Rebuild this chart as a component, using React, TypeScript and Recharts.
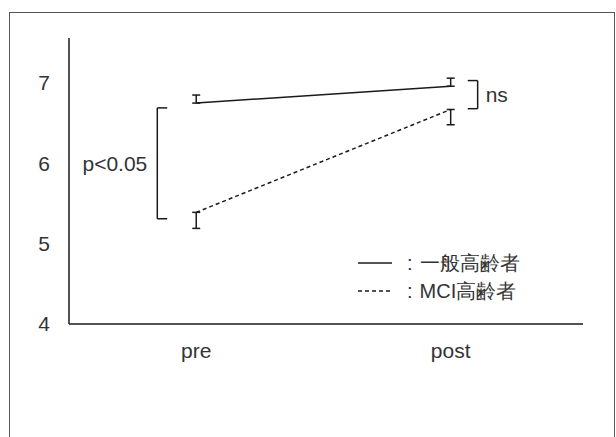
import React from "react";
import {
  LineChart,
  Line,
  XAxis,
  YAxis,
  ErrorBar,
  ReferenceLine,
  Legend,
} from "recharts";

// time points
const phases = ["pre", "post"];
const phaseX = [1, 2];

// mean scores
const generalMeans = [6.75, 6.96];
const mciMeans = [5.39, 6.67];

// one-sided error bars: general drawn upward, MCI downward
const generalErr = [0.1, 0.1];
const mciErr = [0.2, 0.19];

const yTicks = [4, 5, 6, 7];

// significance brackets (data coordinates)
const preBracket = { x: 0.847, tip: 0.886, top: 6.69, bottom: 5.31, label: "p<0.05" };
const postBracket = { x: 2.106, tip: 2.067, top: 7.03, bottom: 6.68, label: "ns" };

const legendItems = [
  { name: "一般高齢者", dash: undefined },
  { name: "MCI高齢者", dash: "4 3" },
];

const data = phases.map((p, i) => ({
  x: phaseX[i],
  phase: p,
  general: generalMeans[i],
  generalErr: [0, generalErr[i]],
  mci: mciMeans[i],
  mciErr: [mciErr[i], 0],
}));

const FONT = "'Liberation Sans', Arial, sans-serif";
const INK = "#1a1a1a";
const TEXT = "#333";

function bracketLines(b: typeof preBracket) {
  return [
    [{ x: b.x, y: b.top }, { x: b.x, y: b.bottom }],
    [{ x: b.x, y: b.top }, { x: b.tip, y: b.top }],
    [{ x: b.x, y: b.bottom }, { x: b.tip, y: b.bottom }],
  ];
}

function LegendBox() {
  return (
    <div style={{ fontFamily: FONT, fontSize: 20, color: TEXT }}>
      {legendItems.map((item) => (
        <div
          key={item.name}
          style={{ display: "flex", alignItems: "center", height: 28 }}
        >
          <svg width={34} height={6}>
            <line
              x1={0}
              y1={3}
              x2={34}
              y2={3}
              stroke={INK}
              strokeWidth={1.5}
              strokeDasharray={item.dash}
            />
          </svg>
          <span style={{ marginLeft: 15, marginRight: 7 }}>:</span>
          <span>{item.name}</span>
        </div>
      ))}
    </div>
  );
}

export default function App() {
  return (
    <div style={{ position: "absolute", left: 0, top: 0, width: 616, height: 437 }}>
      <div
        style={{
          position: "absolute",
          left: 9,
          top: 12,
          width: 606,
          height: 425,
          boxSizing: "border-box",
          border: "1.5px solid #555",
          borderBottom: "none",
        }}
      />
      <LineChart
        width={616}
        height={437}
        data={data}
        margin={{ top: 38, right: 33, bottom: 73, left: 0 }}
        style={{ fontFamily: FONT }}
      >
        <XAxis
          dataKey="x"
          type="number"
          domain={[0.5, 2.52]}
          ticks={phaseX}
          tickFormatter={(v) => phases[phaseX.indexOf(v)]}
          height={40}
          tickLine={false}
          tickSize={0}
          tickMargin={19}
          axisLine={{ stroke: INK, strokeWidth: 1.5 }}
          tick={{ fill: TEXT, fontSize: 21 }}
        />
        <YAxis
          type="number"
          domain={[4, 7.56]}
          ticks={yTicks}
          width={69}
          tickLine={false}
          tickSize={0}
          tickMargin={19}
          axisLine={{ stroke: INK, strokeWidth: 1.5 }}
          tick={{ fill: TEXT, fontSize: 21 }}
        />
        <Legend
          layout="vertical"
          align="center"
          verticalAlign="middle"
          content={() => <LegendBox />}
          wrapperStyle={{ left: 358, top: 249, width: 220 }}
        />
        {bracketLines(preBracket).map((seg, i) => (
          <ReferenceLine
            key={"pre" + i}
            segment={seg}
            stroke={INK}
            strokeWidth={1.5}
            ifOverflow="visible"
            label={
              i === 0
                ? { value: preBracket.label, position: "left", offset: 10, fill: TEXT, fontSize: 21 }
                : undefined
            }
          />
        ))}
        {bracketLines(postBracket).map((seg, i) => (
          <ReferenceLine
            key={"post" + i}
            segment={seg}
            stroke={INK}
            strokeWidth={1.5}
            ifOverflow="visible"
            label={
              i === 0
                ? { value: postBracket.label, position: "right", offset: 8, fill: TEXT, fontSize: 21 }
                : undefined
            }
          />
        ))}
        <Line
          dataKey="general"
          name="一般高齢者"
          stroke={INK}
          strokeWidth={1.5}
          dot={false}
          isAnimationActive={false}
        >
          <ErrorBar dataKey="generalErr" direction="y" width={4} stroke={INK} strokeWidth={1.5} />
        </Line>
        <Line
          dataKey="mci"
          name="MCI高齢者"
          stroke={INK}
          strokeWidth={1.5}
          strokeDasharray="4 3"
          dot={false}
          isAnimationActive={false}
        >
          <ErrorBar dataKey="mciErr" direction="y" width={4} stroke={INK} strokeWidth={1.5} />
        </Line>
      </LineChart>
    </div>
  );
}
